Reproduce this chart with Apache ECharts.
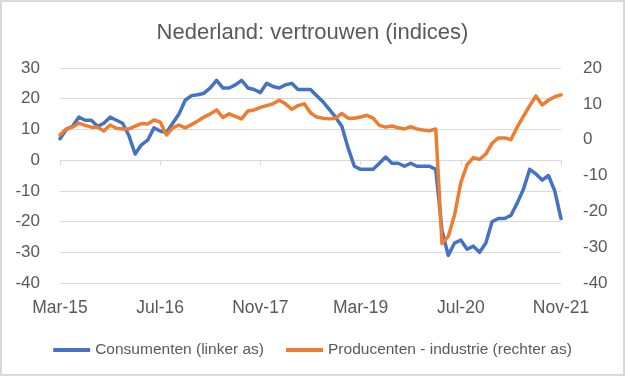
<!DOCTYPE html>
<html>
<head>
<meta charset="utf-8">
<script src="https://cdn.jsdelivr.net/npm/echarts@6/dist/echarts.min.js"></script>
<style>
    html, body { margin: 0; padding: 0; background: #fff; }
    #chart { width: 625px; height: 376px; }
    #frame { position: absolute; left: 0; top: 0; width: 625px; height: 376px;
             box-sizing: border-box; border: 2px solid #d9d9d9; pointer-events: none; }
</style>
</head>
<body>
<div id="chart"></div>
<div id="frame"></div>
<script>
// monthly, Mar-15 .. Nov-21
var months = [
    'Mar-15', 'Apr-15', 'May-15', 'Jun-15', 'Jul-15', 'Aug-15', 'Sep-15', 'Oct-15', 'Nov-15', 'Dec-15',
    'Jan-16', 'Feb-16', 'Mar-16', 'Apr-16', 'May-16', 'Jun-16', 'Jul-16', 'Aug-16', 'Sep-16', 'Oct-16', 'Nov-16', 'Dec-16',
    'Jan-17', 'Feb-17', 'Mar-17', 'Apr-17', 'May-17', 'Jun-17', 'Jul-17', 'Aug-17', 'Sep-17', 'Oct-17', 'Nov-17', 'Dec-17',
    'Jan-18', 'Feb-18', 'Mar-18', 'Apr-18', 'May-18', 'Jun-18', 'Jul-18', 'Aug-18', 'Sep-18', 'Oct-18', 'Nov-18', 'Dec-18',
    'Jan-19', 'Feb-19', 'Mar-19', 'Apr-19', 'May-19', 'Jun-19', 'Jul-19', 'Aug-19', 'Sep-19', 'Oct-19', 'Nov-19', 'Dec-19',
    'Jan-20', 'Feb-20', 'Mar-20', 'Apr-20', 'May-20', 'Jun-20', 'Jul-20', 'Aug-20', 'Sep-20', 'Oct-20', 'Nov-20', 'Dec-20',
    'Jan-21', 'Feb-21', 'Mar-21', 'Apr-21', 'May-21', 'Jun-21', 'Jul-21', 'Aug-21', 'Sep-21', 'Oct-21', 'Nov-21'
];

// Consumenten (linker as)
var consumenten = [
    7, 10, 11, 14, 13, 13, 11, 12, 14, 13,
    12, 8, 2, 5, 6.5, 10.5, 9.5, 9, 12, 15, 19.5, 21,
    21.3, 21.8, 23.5, 26, 23.5, 23.5, 24.5, 26, 23.5, 23, 22, 25,
    24, 23.5, 24.5, 25, 23, 23, 23, 21, 19, 16.5, 14, 11,
    4, -2, -3, -3, -3, -1, 1, -1, -1, -2, -1, -2,
    -2, -2, -3, -23, -31, -27, -26, -29, -28, -30, -27, -20,
    -19, -19, -18, -14, -9.5, -3, -4.5, -6.5, -5, -10, -19
];

// Producenten - industrie (rechter as)
var producenten = [
    1.3, 3, 3.5, 4.6, 4, 3.5, 3.5, 2.4, 4.1, 3.2,
    3, 3, 3.8, 4.5, 4.4, 5.5, 4.9, 1.3, 3.3, 4.1, 3.3, 4.2,
    5.2, 6.3, 7.2, 8.3, 6.2, 7.2, 6.5, 5.8, 8, 8.3, 9, 9.5,
    10, 11, 10, 8.5, 9.5, 10, 7.5, 6.3, 6, 5.8, 6, 7.3,
    6, 6, 6.3, 6.8, 6, 4, 3.5, 3.8, 3.3, 3, 3.6, 3,
    2.7, 2.5, 3, -29, -27, -21, -12, -7, -5, -5.5, -4, -1,
    0.5, 0.5, 0, 3.5, 6.5, 9.5, 12.2, 9.7, 11, 12, 12.5
];

var textColor = '#595959';
var gridColor = '#d9d9d9';
var fontName = 'Liberation Sans';

var option = {
    animation: false,
    textStyle: { fontFamily: fontName },
    title: {
        text: 'Nederland: vertrouwen (indices)',
        left: 'center',
        top: 17,
        textStyle: { color: textColor, fontSize: 22, fontWeight: 'normal', fontFamily: fontName }
    },
    grid: {
        top: 68,
        right: 64,
        bottom: 93,
        left: 60
    },
    legend: {
        bottom: 13,
        left: 'center',
        itemWidth: 37,
        itemHeight: 4,
        itemGap: 22,
        icon: 'rect',
        textStyle: { color: textColor, fontSize: 15.5, fontFamily: fontName },
        data: ['Consumenten (linker as)', 'Producenten - industrie (rechter as)']
    },
    xAxis: [{
        // axis line through zero with the ticks
        type: 'category',
        data: months,
        boundaryGap: false,
        axisLine: { onZero: true, lineStyle: { color: gridColor } },
        axisTick: { show: true, interval: 15, length: 5, lineStyle: { color: gridColor } },
        axisLabel: { show: false },
        splitLine: { show: false }
    }, {
        // labels at the bottom
        type: 'category',
        data: months,
        boundaryGap: false,
        position: 'bottom',
        axisLine: { show: false, onZero: false },
        axisTick: { show: false },
        axisLabel: { interval: 15, color: textColor, fontSize: 17.5, margin: 16 },
        splitLine: { show: false }
    }],
    yAxis: [{
        type: 'value',
        min: -40,
        max: 30,
        interval: 10,
        position: 'left',
        axisLine: { show: false },
        axisTick: { show: false },
        axisLabel: { color: textColor, fontSize: 17, margin: 20 },
        splitLine: { lineStyle: { color: gridColor } }
    }, {
        type: 'value',
        min: -40,
        max: 20,
        interval: 10,
        position: 'right',
        axisLine: { show: false },
        axisTick: { show: false },
        axisLabel: { color: textColor, fontSize: 17, margin: 22 },
        splitLine: { show: false }
    }],
    series: [{
        name: 'Consumenten (linker as)',
        type: 'line',
        xAxisIndex: 0,
        yAxisIndex: 0,
        data: consumenten,
        showSymbol: false,
        itemStyle: { color: '#4472c4' },
        lineStyle: { color: '#4472c4', width: 3.5, cap: 'round', join: 'round' }
    }, {
        name: 'Producenten - industrie (rechter as)',
        type: 'line',
        xAxisIndex: 0,
        yAxisIndex: 1,
        data: producenten,
        showSymbol: false,
        itemStyle: { color: '#ed7d31' },
        lineStyle: { color: '#ed7d31', width: 3.5, cap: 'round', join: 'round' }
    }]
};

var chart = echarts.init(document.getElementById('chart'));
chart.setOption(option);
</script>
</body>
</html>
